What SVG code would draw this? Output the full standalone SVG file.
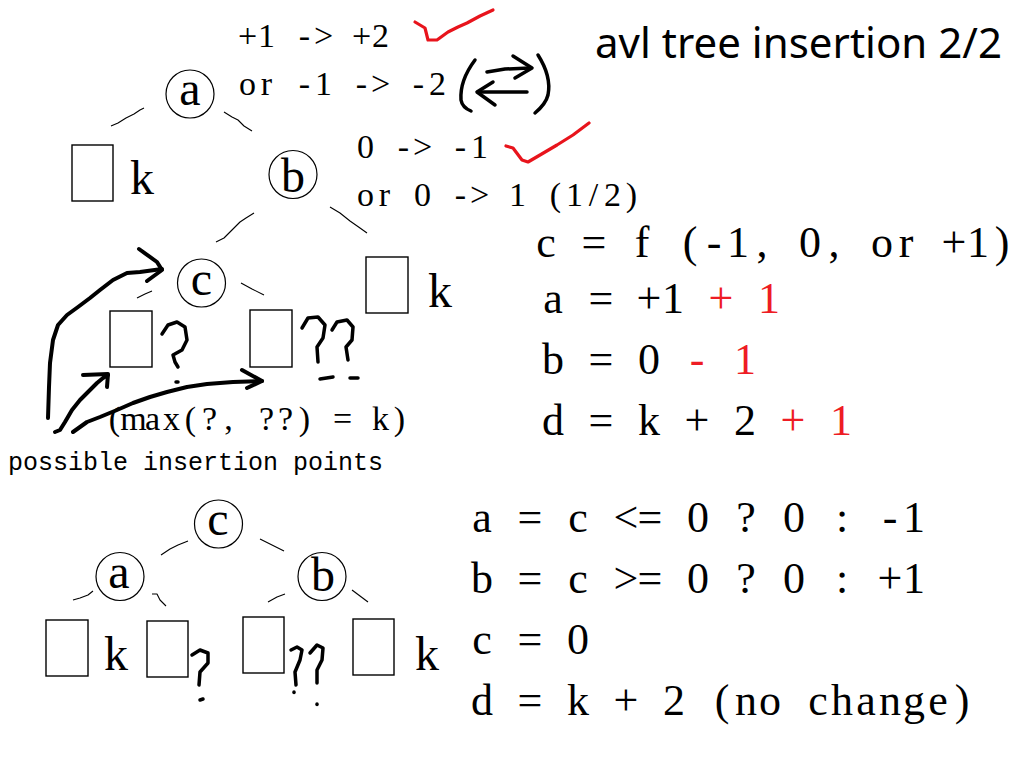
<svg xmlns="http://www.w3.org/2000/svg" width="1024" height="768" viewBox="0 0 1024 768">
<style>
.bg{fill:#fff}
.node{fill:none;stroke:#000;stroke-width:1.2}
.box{fill:none;stroke:#000;stroke-width:1.4}
.lbl{font-family:"Liberation Serif",serif;font-size:48px;fill:#000;text-anchor:middle}
.kk{font-family:"Liberation Serif",serif;font-size:48px;fill:#000}
.edge{fill:none;stroke:#000;stroke-width:1.1;stroke-linejoin:round}
.ink{fill:none;stroke:#000;stroke-width:4;stroke-linecap:round;stroke-linejoin:round}
.q{fill:none;stroke:#000;stroke-width:3.5;stroke-linecap:round;stroke-linejoin:round}
.red{fill:none;stroke:#e8141c;stroke-width:3.2;stroke-linecap:round;stroke-linejoin:round}
.t34{font-family:"Liberation Serif",serif;font-size:34px;fill:#000;text-anchor:middle}
.t44{font-family:"Liberation Serif",serif;font-size:44px;fill:#000;text-anchor:middle}
.r{fill:#ee1c24}
.mono{font-family:"Liberation Mono",monospace;font-size:25px;fill:#000}
.title{font-family:"Noto Sans","Open Sans",sans-serif;font-size:42px;fill:#000}
</style>
<rect class="bg" x="0" y="0" width="1024" height="768"/>

<text class="title" x="595" y="58" textLength="407" lengthAdjust="spacing">avl tree insertion 2/2</text>

<!-- connectors -->
<g id="connectors">
<polyline class="edge" points="111,126 118,123 126,118 134,114 140,110 144,108"/>
<polyline class="edge" points="224,112 232,117 238,120 244,126 252,131"/>
<polyline class="edge" points="216,242 224,238 232,230 240,222 246,218 254,213"/>
<polyline class="edge" points="330,207 340,213 350,221 360,228 367,233"/>
<polyline class="edge" points="137,298 145,294 152,291"/>
<polyline class="edge" points="241,283 252,289 264,295"/>
<polyline class="edge" points="161,555 170,549 178,545 183,543 188,541"/>
<polyline class="edge" points="260,539 270,544 284,551"/>
<polyline class="edge" points="73,600 80,598 88,595 93,591"/>
<polyline class="edge" points="152,594 157,594 160,600 166,606"/>
<polyline class="edge" points="268,602 277,597 285,594"/>
<polyline class="edge" points="352,590 360,596 368,602"/>
</g>

<!-- top tree -->
<g id="node-a-top"><circle class="node" cx="190" cy="94" r="24"/><text class="lbl" x="190" y="105">a</text></g>
<g id="node-b-top"><circle class="node" cx="293" cy="174.5" r="24"/><text class="lbl" x="293" y="192">b</text></g>
<g id="node-c-top"><circle class="node" cx="201.5" cy="283" r="24"/><text class="lbl" x="201.5" y="295">c</text></g>
<g id="box-a-left"><rect class="box" x="72" y="145" width="41" height="56"/><text class="kk" x="130" y="194">k</text></g>
<g id="box-b-right"><rect class="box" x="366" y="257" width="42" height="56"/><text class="kk" x="428" y="307">k</text></g>
<g id="box-c-left"><rect class="box" x="110" y="311" width="42" height="56"/></g>
<g id="box-c-right"><rect class="box" x="250" y="310" width="42" height="57"/></g>

<!-- hand question marks top -->
<g id="q-top">
<polyline class="q" points="162,334 168,325 177,322 185,327 187,340 182,350 173,355 175,362 178,367"/>
<path class="q" d="M176,382 l2,0"/>
<polyline class="q" points="302,328 308,318 318,317 325,325 323,338 317,347 318,362"/>
<path class="q" d="M320,379 L333,377"/>
<polyline class="q" points="332,330 337,322 347,320 353,327 352,340 346,347 348,360"/>
<path class="q" d="M350,378 L358,378"/>
</g>

<!-- insertion arrows -->
<g id="insertion-arrows">
<polyline class="ink" points="48,418 49,387 50,363 53,340 58,325 67,315 78,307 90,298 100,290 113,280 127,273 140,272 162,269"/>
<polyline class="ink" points="139,249 157,262 162,270 147,281"/>
<polyline class="ink" points="55,432 60,430 65,422 72,410 80,400 88,392 97,383 103,378 108,375"/>
<polyline class="ink" points="83,375 108,374 107,387"/>
<polyline class="ink" points="73,432 80,427 87,422 100,417 117,410 133,403 150,397 167,392 187,387 207,384 233,382 262,381"/>
<polyline class="ink" points="242,370 262,381 247,388"/>
</g>

<text class="t34" x="114.5 133.5 152.5 171.5 190.5 209.5 228.5 247.5 266.5 285.5 304.5 323.5 342.5 361.5 380.5 399.5" y="430">(max(?, ??) = k)</text>
<text class="mono" x="8" y="470">possible insertion points</text>

<!-- top annotations -->
<text class="t34" x="247.5 266.5 285.5 304.5 323.5 342.5 361.5 380.5" y="47">+1 -&gt; +2</text>
<text class="t34" x="247.5 266.5 285.5 304.5 323.5 342.5 361.5 380.5 399.5 418.5 437.5" y="95">or -1 -&gt; -2</text>
<text class="t34" x="365.5 384.5 403.5 422.5 441.5 460.5 479.5" y="158">0 -&gt; -1</text>
<text class="t34" x="365.5 384.5 403.5 422.5 441.5 460.5 479.5 498.5 517.5 536.5 555.5 574.5 593.5 612.5 631.5" y="206">or 0 -&gt; 1 (1/2)</text>

<polyline class="red" points="415,22 425,28 428,40 437,40 448,32 458,27 467,23 480,16 493,10"/>
<polyline class="red" points="506,146 513,148 522,160 528,162 540,155 557,145 573,135 589,123"/>

<g id="swap">
<path class="ink" d="M475,60 C466,72 460,86 461,100 C462,106 466,109 471,111" style="stroke-width:3.5"/>
<path class="ink" d="M538,55 C545,66 551,80 548,95 C546,103 541,108 535,113" style="stroke-width:3.5"/>
<polyline class="ink" points="487,72 505,69 530,68" style="stroke-width:3.5"/>
<polyline class="ink" points="513,56 532,68 515,78" style="stroke-width:3.5"/>
<polyline class="ink" points="527,92 478,92" style="stroke-width:3.5"/>
<polyline class="ink" points="493,82 477,92 495,105" style="stroke-width:3.5"/>
</g>

<!-- right equations -->
<text class="t44" x="546 570 594 618 642 666 690 714 738 762 786 810 834 858 882 906 930 954 978 1002" y="257">c = f (-1, 0, or +1)</text>
<text class="t44" y="313"><tspan x="553 577 601 625 649 673 697">a = +1 </tspan><tspan class="r" x="721 745 769">+ 1</tspan></text>
<text class="t44" y="374"><tspan x="553 577 601 625 649 673">b = 0 </tspan><tspan class="r" x="697 721 745">- 1</tspan></text>
<text class="t44" y="435"><tspan x="553 577 601 625 649 673 697 721 745 769">d = k + 2 </tspan><tspan class="r" x="793 817 841">+ 1</tspan></text>

<!-- bottom tree -->
<g id="node-c-bot"><circle class="node" cx="218.5" cy="524" r="24"/><text class="lbl" x="218" y="535">c</text></g>
<g id="node-a-bot"><circle class="node" cx="120" cy="576.5" r="24"/><text class="lbl" x="119" y="588">a</text></g>
<g id="node-b-bot"><circle class="node" cx="322" cy="576.5" r="24"/><text class="lbl" x="323" y="591">b</text></g>
<g id="box-1"><rect class="box" x="46" y="620" width="42" height="56"/><text class="kk" x="104" y="670">k</text></g>
<g id="box-2"><rect class="box" x="147" y="621" width="41" height="56"/></g>
<g id="box-3"><rect class="box" x="243" y="617" width="41" height="56"/></g>
<g id="box-4"><rect class="box" x="353" y="619" width="41" height="56"/><text class="kk" x="415" y="670">k</text></g>
<g id="q-bot">
<polyline class="q" points="192,655 200,650 208,653 208,663 200,672 199,685"/>
<path class="q" d="M200,700 l3,-1"/>
<polyline class="q" points="291,650 297,647 302,650 300,660 295,672 296,685"/>
<path class="q" d="M294,692 l0,0.5"/>
<polyline class="q" points="310,653 317,645 323,648 322,660 317,670 317,683"/>
<path class="q" d="M317,704 l0,0.5"/>
</g>

<!-- bottom equations -->
<text class="t44" x="482 506 530 554 578 602 626 650 674 698 722 746 770 794 818 842 866 890 914" y="532">a = c &lt;= 0 ? 0 : -1</text>
<text class="t44" x="482 506 530 554 578 602 626 650 674 698 722 746 770 794 818 842 866 890 914" y="593">b = c &gt;= 0 ? 0 : +1</text>
<text class="t44" x="482 506 530 554 578" y="654">c = 0</text>
<text class="t44" x="482 506 530 554 578 602 626 650 674 698 722 746 770 794 818 842 866 890 914 938 962" y="715">d = k + 2 (no change)</text>
</svg>
